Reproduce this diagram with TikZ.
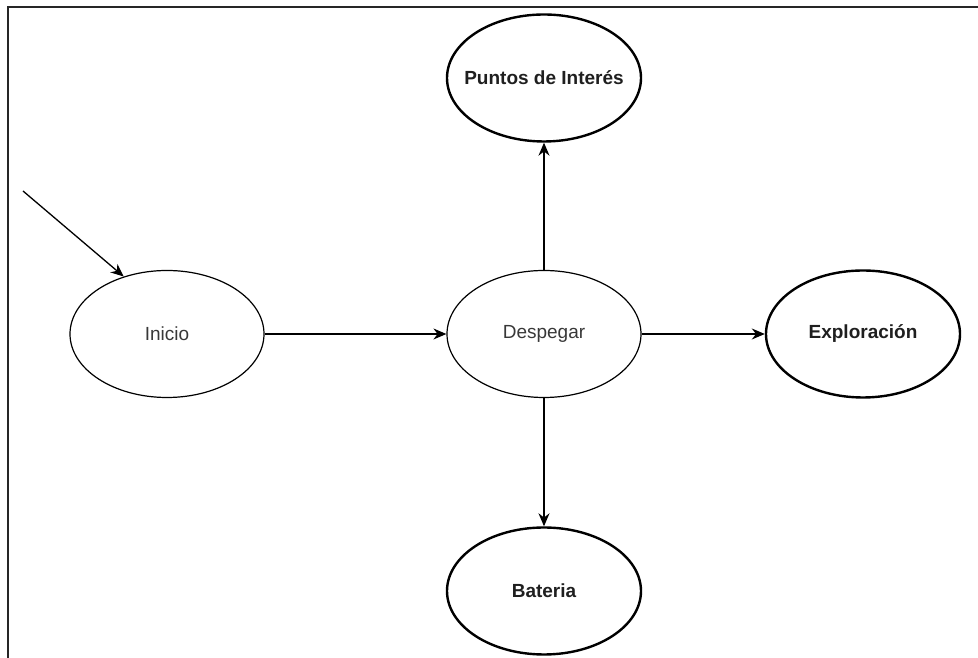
\documentclass[tikz,border=0pt]{standalone}
\usepackage{fontspec}
\setmainfont{Liberation Sans}
\usetikzlibrary{arrows.meta,shapes.geometric}
\newcommand{\estado}{\fontsize{19}{23}\selectfont}

\begin{document}
\begin{tikzpicture}[x=1pt,y=1pt,>={Stealth[length=13pt,width=11pt]},
  est/.style={ellipse,draw,line width=1.2pt,minimum width=194pt,minimum height=127pt,inner xsep=-25pt,inner ysep=0pt,text=black!78,font=\estado},
  fin/.style={est,line width=2.4pt,text=black!88,font=\estado\bfseries},
  flecha/.style={->,line width=1.3pt}]
\useasboundingbox (0,0) rectangle (978,658);
\draw[line width=2pt,black!85] (8,0)--(8,651)--(978,651);
\node[est] (inicio) at (167,324) {Inicio};
\node[est] (despegar) at (544,324) {Despegar};
\node[fin] (puntos) at (544,580) {Puntos de Interés};
\node[fin] (exploracion) at (863,324) {Exploración};
\node[fin] (bateria) at (544,67) {Bateria};
\coordinate (entrada) at (23,467);
\draw[flecha] (entrada)--(inicio.127);
\draw[flecha] (inicio)--(despegar);
\draw[flecha] (despegar)--(puntos);
\draw[flecha] (despegar)--(exploracion);
\draw[flecha] (despegar)--(bateria);
\end{tikzpicture}
\end{document}
